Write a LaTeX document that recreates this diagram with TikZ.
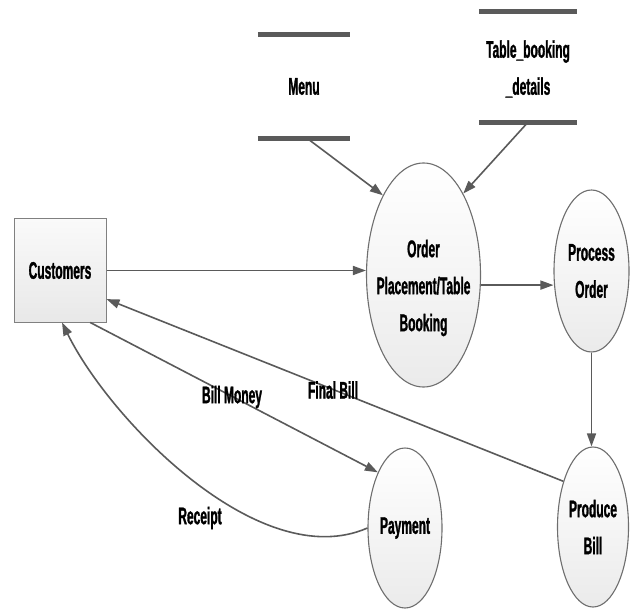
\documentclass[tikz,border=0pt]{standalone}
\usepackage{fontspec}
\newfontfamily\lbl[FakeStretch=0.5, FakeBold=1.2]{Liberation Sans}
\usetikzlibrary{shapes.geometric,arrows.meta,calc}
\definecolor{edge}{HTML}{5A5A5A}
\definecolor{rim}{HTML}{6E6E6E}
\begin{document}
\begin{tikzpicture}[x=1pt,y=-1pt,
  lab/.style={font=\lbl\bfseries\fontsize{24}{37}\selectfont, align=center, text=black},
  bubble/.style={ellipse, draw=rim, line width=1.1pt, top color=white, bottom color=black!8,
    inner sep=0pt, lab},
  entity/.style={rectangle, draw=black!50, line width=1pt, top color=black!2, bottom color=black!9,
    inner sep=0pt, minimum width=92pt, minimum height=103pt, lab},
  store/.style={inner sep=0pt, lab},
  bar/.style={draw=edge, line width=5pt},
  flow/.style={draw=edge, line width=1.6pt, -{Triangle[length=13pt,width=9pt]}},
]
\useasboundingbox (0,0) rectangle (631,612);

% external entity
\node[entity] (cust) at (60,270.5) {Customers};

% processes
\node[bubble, minimum width=114pt, minimum height=224pt] (order) at (423.5,275) {};
\node[lab] (ordertext) at (423.5,288) {Order\\Placement/Table\\Booking};
\node[bubble, minimum width=75pt, minimum height=162pt] (proc) at (591.5,271) {Process\\Order};
\node[bubble, minimum width=71pt, minimum height=160pt] (prod) at (593,527) {Produce\\Bill};
\node[bubble, minimum width=74pt, minimum height=160pt] (pay) at (405,528) {Payment};

% data stores
\node[store, minimum width=92pt, minimum height=103pt] (menu) at (304,86.5) {Menu};
\draw[bar] (menu.north west) -- (menu.north east);
\draw[bar] (menu.south west) -- (menu.south east);
\node[store, minimum width=98pt, minimum height=110pt] (tbl) at (528,69) {Table\_booking\\\_details};
\draw[bar] ($(tbl.north west)+(0,-2)$) -- ($(tbl.north east)+(0,-2)$);
\draw[bar] ($(tbl.south west)+(0,-2)$) -- ($(tbl.south east)+(0,-2)$);

% data flows
\draw[flow] ($(menu.south)+(3,0)$) -- (order.117);
\draw[flow] ($(tbl.south)+(0,-2)$) -- (order.64);
\draw[flow] (cust.east) -- (cust.east -| order.west);
\draw[flow] (order.-10) -- (order.-10 -| proc.west);
\draw[flow] (proc.south) -- (proc.south |- prod.north);

\coordinate (fbend) at ($(cust.east)!0.55!(cust.south east)$);
\coordinate (bmstart) at ($(cust.south)!0.65!(cust.south east)$);
\draw[flow] (prod.123) -- (fbend);
\draw[flow] (bmstart) -- (pay.116);
\draw[flow] (pay.west) .. controls (260,575) and (110,420) .. ($(cust.south)+(2,0)$);

% flow labels
\node[lab] (lbm) at (232,397) {Bill Money};
\node[lab] (lfb) at (333,390) {Final Bill};
\node[lab] (lrc) at (200,518) {Receipt};
\end{tikzpicture}
\end{document}
